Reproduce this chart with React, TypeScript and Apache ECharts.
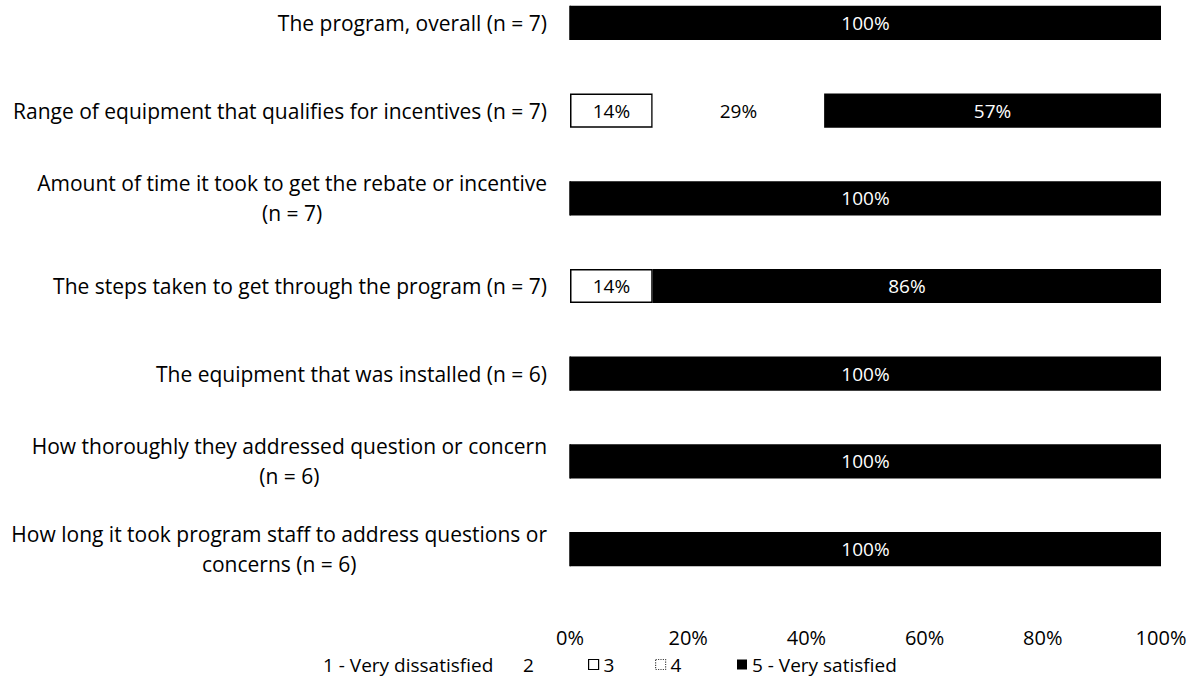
import React, { useEffect, useRef } from "react";
import * as echarts from "echarts";

// Survey items (top to bottom)
const categories: string[] = [
  "The program, overall (n = 7)",
  "Range of equipment that qualifies for incentives (n = 7)",
  "Amount of time it took to get the rebate or incentive\n(n = 7)",
  "The steps taken to get through the program (n = 7)",
  "The equipment that was installed (n = 6)",
  "How thoroughly they addressed question or concern\n(n = 6)",
  "How long it took program staff to address questions or\nconcerns (n = 6)",
];

// Share of respondents (%) per rating
const seriesNames: string[] = ["1 - Very dissatisfied", "2", "3", "4", "5 - Very satisfied"];
const veryDissatisfied: number[] = [0, 0, 0, 0, 0, 0, 0];
const rating2: number[] = [0, 0, 0, 0, 0, 0, 0];
const rating3: number[] = [0, 14, 0, 14, 0, 0, 0];
const rating4: number[] = [0, 29, 0, 0, 0, 0, 0];
const verySatisfied: number[] = [100, 57, 100, 86, 100, 100, 100];

const xTicks: number[] = [0, 20, 40, 60, 80, 100];

const FONT = "'Open Sans', 'Noto Sans', sans-serif";
// the chart canvas starts above the page so the first band can bleed off the top
const SHIFT = 21;

export default function App() {
  const ref = useRef<HTMLDivElement>(null);

  useEffect(() => {
    document.body.style.margin = "0";
    if (!ref.current) return;
    const chart = echarts.init(ref.current, undefined, { renderer: "svg" });

    const labelFor = (color: string) => ({
      show: true,
      position: "inside" as const,
      color,
      fontFamily: FONT,
      fontSize: 19,
      formatter: (p: any) => (p.value > 0 ? `${p.value}%` : ""),
    });

    const legendPos = [303, 503, 583, 650, 732];
    const legendIcons = [
      { color: "#ffffff", borderWidth: 0 },
      { color: "#ffffff", borderWidth: 0 },
      { color: "#ffffff", borderColor: "#000000", borderWidth: 1.2 },
      { color: "#ffffff", borderColor: "#444444", borderWidth: 1.2, borderType: "dotted" },
      { color: "#000000", borderWidth: 0 },
    ];

    chart.setOption({
      animation: false,
      backgroundColor: "#ffffff",
      textStyle: { fontFamily: FONT },
      grid: { left: 570, right: 33, top: 0, bottom: 101, containLabel: false },
      legend: seriesNames.map((name, i) => ({
        left: legendPos[i],
        top: 650 + SHIFT,
        itemWidth: 10,
        itemHeight: 10,
        itemGap: 5,
        icon: "rect",
        selectedMode: false,
        textStyle: { fontFamily: FONT, fontSize: 19, color: "#000000" },
        data: [{ name, itemStyle: legendIcons[i] }],
      })),
      xAxis: {
        type: "value",
        min: xTicks[0],
        max: xTicks[xTicks.length - 1],
        interval: 20,
        axisLine: { show: false },
        axisTick: { show: false },
        splitLine: { show: false },
        axisLabel: {
          margin: 34,
          color: "#000000",
          fontFamily: FONT,
          fontSize: 20,
          formatter: (v: number) => `${v}%`,
        },
      },
      yAxis: {
        type: "category",
        inverse: true,
        data: categories,
        axisLine: { show: false },
        axisTick: { show: false },
        axisLabel: {
          margin: 23,
          color: "#000000",
          fontFamily: FONT,
          fontSize: 21,
          lineHeight: 30,
          formatter: (v: string) =>
            v
              .split("\n")
              .map((line) => `{c|${line}}`)
              .join("\n"),
          rich: {
            c: {
              align: "center",
              color: "#000000",
              fontFamily: FONT,
              fontSize: 21,
              lineHeight: 30,
            },
          },
        },
      },
      series: [
        {
          name: seriesNames[0],
          type: "bar",
          stack: "total",
          barWidth: "39%",
          data: veryDissatisfied,
          itemStyle: { color: "#ffffff" },
          label: labelFor("#000000"),
        },
        {
          name: seriesNames[1],
          type: "bar",
          stack: "total",
          data: rating2,
          itemStyle: { color: "#ffffff" },
          label: labelFor("#000000"),
        },
        {
          name: seriesNames[2],
          type: "bar",
          stack: "total",
          data: rating3,
          itemStyle: { color: "#ffffff", borderColor: "#000000", borderWidth: 1.5 },
          label: labelFor("#000000"),
        },
        {
          name: seriesNames[3],
          type: "bar",
          stack: "total",
          data: rating4,
          itemStyle: { color: "#ffffff" },
          label: labelFor("#000000"),
        },
        {
          name: seriesNames[4],
          type: "bar",
          stack: "total",
          data: verySatisfied,
          itemStyle: { color: "#000000" },
          label: labelFor("#ffffff"),
        },
      ],
    });

    return () => chart.dispose();
  }, []);

  return (
    <div
      ref={ref}
      style={{ position: "absolute", left: 0, top: -SHIFT, width: 1194, height: 694 + SHIFT }}
    />
  );
}
